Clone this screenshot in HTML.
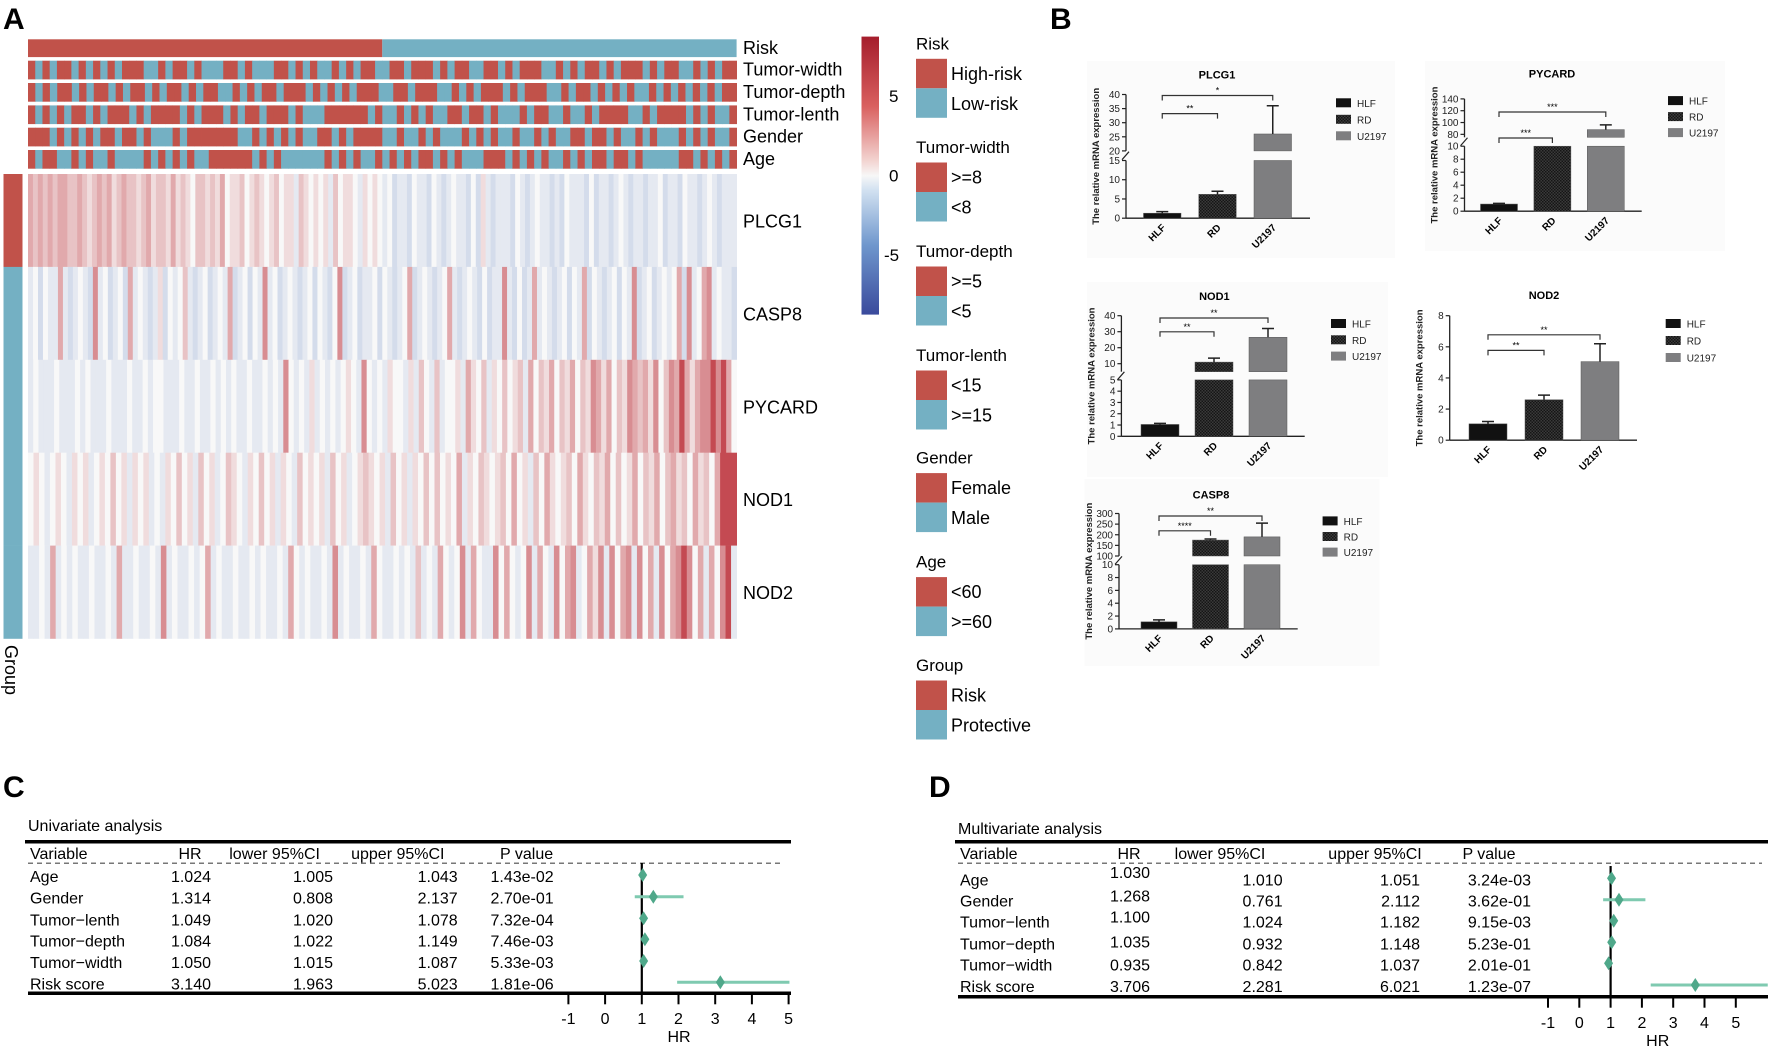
<!DOCTYPE html>
<html><head><meta charset="utf-8"><style>
html,body{margin:0;padding:0;background:#fff}
svg{display:block;font-family:"Liberation Sans",sans-serif}
</style></head><body>
<svg id="fig" xmlns="http://www.w3.org/2000/svg" width="1772" height="1049" viewBox="0 0 1772 1049">
<defs>
<pattern id="chk" width="3" height="3" patternUnits="userSpaceOnUse"><rect width="3" height="3" fill="#3a3a3a"/><rect width="1.5" height="1.5" fill="#151515"/><rect x="1.5" y="1.5" width="1.5" height="1.5" fill="#151515"/></pattern>
<linearGradient id="cbar" x1="0" y1="0" x2="0" y2="1"><stop offset="0" stop-color="#a51d2c"/><stop offset="0.25" stop-color="#d9605f"/><stop offset="0.45" stop-color="#f3d6d3"/><stop offset="0.5" stop-color="#f7f7f7"/><stop offset="0.55" stop-color="#d3e2f1"/><stop offset="0.75" stop-color="#6f97cd"/><stop offset="1" stop-color="#3a4a9c"/></linearGradient>
</defs>
<g id="panelA"></g>
<g id="panelB"></g>
<g id="panelC"></g>
<g id="panelD"></g>
</svg>
<script>
// ---------- Panel A data ----------
const annoNames = ["Tumor-width","Tumor-depth","Tumor-lenth","Gender","Age"];
const annoTumorWidth = "rbrbrrbrbrbrbrrrbbrbrrbrbbbrrbrbbbrrbrbrbbrbrbrrbbrrbrrrbrbrrbbrrbrbrrrbbrbrbrrbrbrrrbrbrrbbrbrbrr";
const annoTumorDepth = "rbrbrrbrbrrbrbrrbrbrrbrbrrbbrbrbrrbrrrbrbrbrbrrrbbrrbrrrbbrbrbrrrbrbrrrbbrbrrbrbrbrbbrbrbrbrbrbrr";
const annoTumorLenth = "rbrbrbrrbrbrrrbrbrrrrbrbrrrbrbrrbrrrbrbbbrrrrrrbrbbrbrbrbbrrbrrbrbbbrbrrbbrbbrbrrrrbbrbrrrrbrbrbbr";
const annoGender = "rrrbrbrbrbrrbrrbrbbbrbrrrrrrrbbrbrbrbrbbrrbrbrrrrbbrbbrbrbbbrbrbrbbrbbrbrbbrrbrrbrbbrbrbbbrbrbrbbr";
const annoAge = "rbrrbbrbrbbrbbbbrbrbrbrbbrrrrrrbrbrbbbbbbrbrbrbbrbrbrbrrbrbrbbbrrrbrbrbrbbrbrbrrbrrbrbbbbbrrbrbrbr";
const riskHighFraction = 0.5;
const geneNames = ["PLCG1","CASP8","PYCARD","NOD1","NOD2"];
const exprPLCG1 = "878787887787678786787767867768676577676856675676567566476565647566546565453443544354345443536434443543454434354443534434543443445344354434543444";
const exprCASP8 = "4535448434543945345384543463545743453454834535494534543453543593453445354345834543458434543534494353484543453548354345354934534545839458945443";
const exprPYCARD = "45444544454544454445445455444544544545454454454549545464545456549545465546475474556486574657567485768576857698685769878695798X86899X9X85";
const exprNOD1 = "565456546564565756465645465756475645765465756465475656475645676564756465757565846576567585647586567586576857568576857867586758XXX";
const exprNOD2 = "4454845454454454844544549454454584544544545445485454454945445485445454745485459485449585459485495894586949589495849589X9584859X4";
const groupOfGene = ["Risk","Protective","Protective","Protective","Protective"];
const colorbarTicks = [5,0,-5];

// ---------- Panel B data ----------
const cellLines = ["HLF","RD","U2197"];
const plcg1Mean = [1.3, 6.2, 26];
const plcg1Err  = [1.7, 7.0, 36];
const pycardMean = [1.1, 10, 88];
const pycardErr  = [1.2, 10, 96];
const nod1Mean = [1.05, 11, 26.5];
const nod1Err  = [1.15, 13.5, 32];
const nod2Mean = [1.05, 2.6, 5.05];
const nod2Err  = [1.2, 2.9, 6.2];
const casp8Mean = [1.1, 175, 190];
const casp8Err  = [1.4, 180, 255];

// ---------- Panel C/D data ----------
const forestVars = ["Age","Gender","Tumor\u2212lenth","Tumor\u2212depth","Tumor\u2212width","Risk score"];
const uniHR = [1.024,1.314,1.049,1.084,1.050,3.140];
const uniLower = [1.005,0.808,1.020,1.022,1.015,1.963];
const uniUpper = [1.043,2.137,1.078,1.149,1.087,5.023];
const uniP = ["1.43e-02","2.70e-01","7.32e-04","7.46e-03","5.33e-03","1.81e-06"];
const multiHR = [1.030,1.268,1.100,1.035,0.935,3.706];
const multiLower = [1.010,0.761,1.024,0.932,0.842,2.281];
const multiUpper = [1.051,2.112,1.182,1.148,1.037,6.021];
const multiP = ["3.24e-03","3.62e-01","9.15e-03","5.23e-01","2.01e-01","1.23e-07"];
const hrTicks = [-1,0,1,2,3,4,5];

const NS="http://www.w3.org/2000/svg";
function mk(parent, tag, attrs, text){
  const e=document.createElementNS(NS,tag);
  for(const k in attrs) e.setAttribute(k,attrs[k]);
  if(text!==undefined) e.textContent=text;
  parent.appendChild(e); return e;
}
const RED="#c1524a", TEAL="#74b0c3";

// ================= Panel A =================
(function(){
  const g=document.getElementById('panelA');
  let t=mk(g,'text',{x:3,y:29,'font-size':30,'font-weight':'bold'},'A');
  
  
  const X0=28, X1=736.6;
  const xs=X0+(X1-X0)*riskHighFraction;
  let r=mk(g,'rect',{x:X0,y:39.3,width:xs-X0,height:17.8,fill:RED});
  
  
  r=mk(g,'rect',{x:xs,y:39.3,width:X1-xs,height:17.8,fill:TEAL});
  
  
  t=mk(g,'text',{x:743,y:54,'font-size':18},'Risk');
  
  
  const annos=[annoTumorWidth,annoTumorDepth,annoTumorLenth,annoGender,annoAge];
  const ay=[60.7,83,105.4,127.7,150];
  annos.forEach((s,i)=>{
    const w=(X1-X0)/s.length;
    for(let j=0;j<s.length;j++){
      const c=mk(g,'rect',{x:X0+j*w,y:ay[i],width:w+0.4,height:18.7,fill:s[j]==='r'?RED:TEAL});
      
      
    }
    const lt=mk(g,'text',{x:743,y:ay[i]+15,'font-size':18},annoNames[i]);
    
    
  });
  const map={'0':-4,'1':-3,'2':-2,'3':-1.2,'4':-0.6,'5':0,'6':0.8,'7':1.6,'8':2.5,'9':3.5,'X':6};
  function col(v){
    const tt=Math.pow(Math.min(1,Math.abs(v)/7.5),0.9);
    const base=v>=0?[185,35,45]:[60,100,180];
    const c=[248,248,248].map((w,k)=>Math.round(w+(base[k]-w)*tt));
    return `rgb(${c[0]},${c[1]},${c[2]})`;
  }
  const rows=[exprPLCG1,exprCASP8,exprPYCARD,exprNOD1,exprNOD2];
  const H0=174, RH=92.9;
  rows.forEach((s,i)=>{
    const w=(X1-X0)/s.length;
    for(let j=0;j<s.length;j++){
      const c=mk(g,'rect',{x:X0+j*w,y:H0+i*RH,width:w+0.4,height:RH+0.3,fill:col(map[s[j]])});
      
      
    }
    const gr=mk(g,'rect',{x:3.5,y:H0+i*RH,width:19,height:RH+0.3,fill:groupOfGene[i]==='Risk'?RED:TEAL});
    
    
    const lt=mk(g,'text',{x:743,y:H0+i*RH+RH/2+7,'font-size':18},geneNames[i]);
    
    
  });
  t=mk(g,'text',{x:0,y:0,'font-size':18,transform:'translate(5,645) rotate(90)'},'Group');
  
  
  r=mk(g,'rect',{x:861.5,y:36.6,width:17.5,height:278,fill:'url(#cbar)'});
  
  
  const cy=v=>175.6-v*15.9;
  colorbarTicks.forEach(v=>{
    const tk=mk(g,'text',{x:v<0?884:889,y:cy(v)+6,'font-size':17},String(v));
    
    
  });
  const leg=[["Risk",43.3,"High-risk","Low-risk"],["Tumor-width",147,">=8","<8"],["Tumor-depth",251,">=5","<5"],["Tumor-lenth",355,"<15",">=15"],["Gender",457.6,"Female","Male"],["Age",561.6,"<60",">=60"],["Group",665,"Risk","Protective"]];
  leg.forEach(l=>{
    const tt=mk(g,'text',{x:916,y:l[1]+6,'font-size':17},l[0]);
    
    
    const by=l[1]+15.5;
    const b1=mk(g,'rect',{x:916,y:by,width:31,height:29.5,fill:RED});
    
    
    const b2=mk(g,'rect',{x:916,y:by+29.5,width:31,height:29.5,fill:TEAL});
    
    
    const e1=mk(g,'text',{x:951,y:by+21,'font-size':18},l[2]);
    
    
    const e2=mk(g,'text',{x:951,y:by+51,'font-size':18},l[3]);
    
    
  });
})();

// ================= Panel B =================
function barChart(cfg){
  const root=document.getElementById('panelB');
  const g=mk(root,'g',{});
  
  
  if(cfg.bg){ const b=mk(g,'rect',{x:cfg.bg[0],y:cfg.bg[1],width:cfg.bg[2],height:cfg.bg[3],fill:'#fbfbfb'});
    
     }
  const segs=cfg.segs;
  function yOf(v){
    for(const s of segs){ if(v<=s.hi){ const vv=Math.max(v,s.lo); return s.yLo+(vv-s.lo)/(s.hi-s.lo)*(s.yHi-s.yLo);} }
    const s=segs[segs.length-1]; return s.yHi;
  }
  const ax=cfg.axisX, y0=segs[0].yLo;
  segs.forEach((s,i)=>{
    const l=mk(g,'line',{x1:ax,y1:s.yLo,x2:ax,y2:s.yHi,stroke:'#222','stroke-width':1.3});
    
    
    s.ticks.forEach(v=>{
      const y=yOf(v);
      mk(g,'line',{x1:ax-4,y1:y,x2:ax,y2:y,stroke:'#222','stroke-width':1.2});
      const tk=mk(g,'text',{x:ax-6,y:y+3.5,'font-size':10,'text-anchor':'end',fill:'#222'},String(v));
      
      
    });
    if(i>0){ const ym=(segs[i-1].yHi+s.yLo)/2;
      mk(g,'line',{x1:ax-4,y1:ym+4,x2:ax+3,y2:ym-4,stroke:'#222','stroke-width':1.2}); }
  });
  const xl=mk(g,'line',{x1:ax,y1:y0,x2:cfg.xEnd,y2:y0,stroke:'#222','stroke-width':1.3});
  
  
  const fills=['#111','url(#chk)','#7e7e80'];
  const cx=i=>cfg.axisX+cfg.off+i*cfg.step+cfg.w/2;
  cfg.mean.forEach((v,i)=>{
    const x=cfg.axisX+cfg.off+i*cfg.step;
    segs.forEach(s=>{
      if(v>s.lo){ const top=yOf(Math.min(v,s.hi));
        const b=mk(g,'rect',{x:x,y:top,width:cfg.w,height:s.yLo-top,fill:fills[i],stroke:'#555','stroke-width':0.5});
        
         }
    });
    const e=cfg.err[i];
    if(e>v){ const yt=yOf(e), yb=yOf(v);
      const el=mk(g,'path',{d:`M${cx(i)},${yb}V${yt}M${cx(i)-6},${yt}H${cx(i)+6}`,stroke:'#222','stroke-width':1.5,fill:'none'});
      
       }
    const lb=mk(g,'text',{x:0,y:0,'font-size':10,'font-weight':'bold','text-anchor':'end',transform:`translate(${cx(i)+4},${y0+10}) rotate(-45)`},cellLines[i]);
    
    
    const ly=cfg.legY+i*cfg.legDy;
    const sw=mk(g,'rect',{x:cfg.legX,y:ly-4.5,width:15,height:9,fill:fills[i]});
    
    
    const lt=mk(g,'text',{x:cfg.legX+21,y:ly+4,'font-size':10,fill:'#222'},cellLines[i]);
    
    
  });
  cfg.brackets.forEach(b=>{
    const p=mk(g,'path',{d:`M${cx(b[0])},${b[2]+5}V${b[2]}H${cx(b[1])}V${b[2]+5}`,stroke:'#333','stroke-width':1.2,fill:'none'});
    
    
    const st=mk(g,'text',{x:(cx(b[0])+cx(b[1]))/2,y:b[2]-2,'font-size':9,'text-anchor':'middle'},b[3]);
    
    
  });
  const tt=mk(g,'text',{x:cfg.titleX,y:cfg.titleY+4,'font-size':11,'font-weight':'bold','text-anchor':'middle'},cfg.title);
  
  
  const ymid=(segs[0].yLo+segs[segs.length-1].yHi)/2;
  const yl=mk(g,'text',{x:0,y:0,'font-size':9.5,'font-weight':'bold','text-anchor':'middle',fill:'#222',transform:`translate(${ax-27},${ymid}) rotate(-90)`},'The relative mRNA expression');
  
  
}
(function(){
  const root=document.getElementById('panelB');
  const t=mk(root,'text',{x:1050,y:29,'font-size':30,'font-weight':'bold'},'B');
  
  
})();
barChart({name:'plcg1-chart',title:'PLCG1',titleX:1217,titleY:74.6,bg:[1087,61,308,197],axisX:1126,xEnd:1310,off:17.5,step:55.25,w:37.5,
  segs:[{lo:0,hi:15,yLo:218.2,yHi:160.5,ticks:[0,5,10,15]},{lo:20,hi:40,yLo:150.9,yHi:94.5,ticks:[20,25,30,35,40]}],
  mean:plcg1Mean,err:plcg1Err,legX:1336,legY:102.8,legDy:16.5,brackets:[[0,1,113.6,'**'],[0,2,95.5,'*']]});
barChart({name:'pycard-chart',title:'PYCARD',titleX:1552,titleY:73.7,bg:[1425,61,300,190],axisX:1464.5,xEnd:1641.7,off:16,step:53.4,w:37,
  segs:[{lo:0,hi:10,yLo:211.2,yHi:146.2,ticks:[0,2,4,6,8,10]},{lo:75,hi:140,yLo:137.3,yHi:98.9,ticks:[80,100,120,140]}],
  mean:pycardMean,err:pycardErr,legX:1668,legY:100.6,legDy:16,brackets:[[0,1,138,'***'],[0,2,112,'***']]});
barChart({name:'nod1-chart',title:'NOD1',titleX:1214.4,titleY:296.2,bg:[1087,282,301,195],axisX:1121.4,xEnd:1304.7,off:19.6,step:54,w:38,
  segs:[{lo:0,hi:5,yLo:436.3,yHi:379.9,ticks:[0,1,2,3,4,5]},{lo:5,hi:40,yLo:371.7,yHi:315.7,ticks:[10,20,30,40]}],
  mean:nod1Mean,err:nod1Err,legX:1331,legY:323.5,legDy:16.3,brackets:[[0,1,331.8,'**'],[0,2,318,'**']]});
barChart({name:'nod2-chart',title:'NOD2',titleX:1544,titleY:295,axisX:1449.7,xEnd:1637,off:19.3,step:56,w:38,
  segs:[{lo:0,hi:8,yLo:440.2,yHi:315.7,ticks:[0,2,4,6,8]}],
  mean:nod2Mean,err:nod2Err,legX:1665.7,legY:323.5,legDy:17,brackets:[[0,1,350.4,'**'],[0,2,334.8,'**']]});
barChart({name:'casp8-chart',title:'CASP8',titleX:1211,titleY:494.4,bg:[1084.5,479,295,187],axisX:1119,xEnd:1297.7,off:22,step:51.5,w:36,
  segs:[{lo:0,hi:10,yLo:628.9,yHi:564.7,ticks:[0,2,4,6,8,10]},{lo:100,hi:300,yLo:556,yHi:513.5,ticks:[100,150,200,250,300]}],
  mean:casp8Mean,err:casp8Err,legX:1322.6,legY:520.9,legDy:15.6,brackets:[[0,1,530.8,'****'],[0,2,516,'**']]});

// ================= Panels C/D =================
function forest(cfg){
  const g=document.getElementById(cfg.id);
  let t=mk(g,'text',{x:cfg.letterX,y:797,'font-size':30,'font-weight':'bold'},cfg.letter);
  
  
  t=mk(g,'text',{x:cfg.left,y:cfg.titleY,'font-size':16},cfg.title);
  
  
  let l=mk(g,'line',{x1:cfg.lineX0,y1:841.7,x2:cfg.lineX1,y2:841.7,stroke:'#000','stroke-width':3.5});
  
  
  l=mk(g,'line',{x1:cfg.left,y1:863.3,x2:cfg.dashEnd,y2:863.3,stroke:'#777','stroke-width':1.5,'stroke-dasharray':'5,4'});
  
  
  l=mk(g,'line',{x1:cfg.left,y1:cfg.botY,x2:cfg.lineX1,y2:cfg.botY,stroke:'#000','stroke-width':3.5});
  
  
  const hdr=[['Variable',cfg.left+2,'start'],['HR',cfg.hdrX[0],'middle'],['lower 95%CI',cfg.hdrX[1],'middle'],['upper 95%CI',cfg.hdrX[2],'middle'],['P value',cfg.hdrX[3],'middle']];
  hdr.forEach(h=>{ const e=mk(g,'text',{x:h[1],y:859,'font-size':16,'text-anchor':h[2]},h[0]);
    
     });
  const xs=v=>cfg.x1+(v-1)*cfg.unit;
  const vl=mk(g,'line',{x1:xs(1),y1:cfg.vTop,x2:xs(1),y2:cfg.botY,stroke:'#000','stroke-width':2.2});
  
  
  forestVars.forEach((name,i)=>{
    const y=cfg.rowY[i]+6;
    let e=mk(g,'text',{x:cfg.left+2,y:y,'font-size':16},name);
    
    
    e=mk(g,'text',{x:cfg.valX[0],y:cfg.hrY[i]+6,'font-size':16,'text-anchor':'end'},cfg.hr[i].toFixed(3));
    
    
    e=mk(g,'text',{x:cfg.valX[1],y:y,'font-size':16,'text-anchor':'end'},cfg.lo[i].toFixed(3));
    
    
    e=mk(g,'text',{x:cfg.valX[2],y:y,'font-size':16,'text-anchor':'end'},cfg.hi[i].toFixed(3));
    
    
    e=mk(g,'text',{x:cfg.valX[3],y:y,'font-size':16,'text-anchor':'end'},cfg.p[i]);
    
    
    const my=cfg.rowY[i]-1;
    const xa=xs(cfg.lo[i]), xb=Math.min(xs(cfg.hi[i]),cfg.lineX1);
    const ci=mk(g,'line',{x1:xa,y1:my,x2:xb,y2:my,stroke:'#7fcab0','stroke-width':3});
    
    
    const x=xs(cfg.hr[i]);
    const d=mk(g,'polygon',{points:`${x-4.5},${my} ${x},${my-7} ${x+4.5},${my} ${x},${my+7}`,fill:'#4fa88a'});
    
    
  });
  hrTicks.forEach(v=>{
    const x=xs(v);
    mk(g,'line',{x1:x,y1:cfg.botY,x2:x,y2:cfg.botY+11,stroke:'#000','stroke-width':2});
    const e=mk(g,'text',{x:x,y:cfg.tickY,'font-size':16,'text-anchor':'middle'},String(v));
    
    
  });
  const ht=mk(g,'text',{x:cfg.hrLabX,y:cfg.hrLabY,'font-size':16,'text-anchor':'middle'},'HR');
  
  
}
forest({id:'panelC',letter:'C',letterX:3,title:'Univariate analysis',left:28,titleY:831,lineX0:25,lineX1:791,dashEnd:780,botY:993.3,
  hdrX:[190,274.6,397.8,526.6],valX:[211,333,457.7,553.7],rowY:[876,897.7,919.3,940.3,962,983.3],hrY:[876,897.7,919.3,940.3,962,983.3],
  x1:641.8,unit:36.7,vTop:863,tickY:1024,hrLabX:679,hrLabY:1042,hr:uniHR,lo:uniLower,hi:uniUpper,p:uniP});
forest({id:'panelD',letter:'D',letterX:929,title:'Multivariate analysis',left:958,titleY:834,lineX0:955,lineX1:1768,dashEnd:1762,botY:996.7,
  hdrX:[1129,1220,1375,1489],valX:[1150,1282.6,1420,1531],rowY:[879.3,900.7,921.7,943.3,964.3,986],hrY:[872,895.7,916.7,941.7,964.3,986],
  x1:1610.6,unit:31.3,vTop:866,tickY:1028,hrLabX:1657.7,hrLabY:1046,hr:multiHR,lo:multiLower,hi:multiUpper,p:multiP});
</script>
</body></html>
